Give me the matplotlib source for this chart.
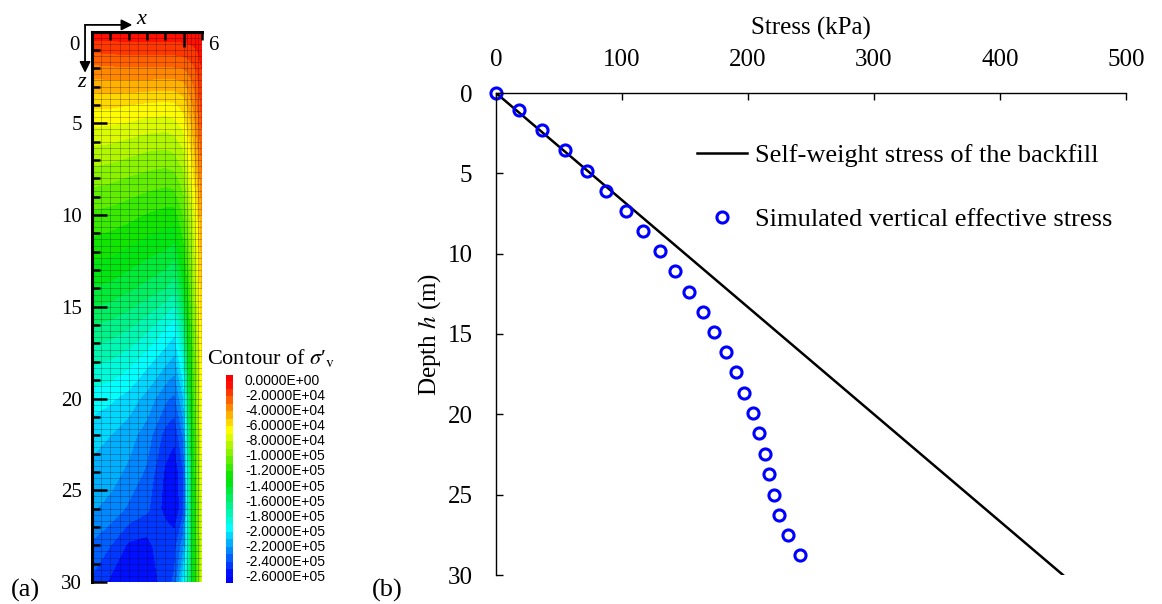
import numpy as np
import matplotlib

matplotlib.use("Agg")
import matplotlib.pyplot as plt  # noqa: E402
from matplotlib.colors import LinearSegmentedColormap, Normalize  # noqa: E402

plt.rcParams["font.family"] = "Liberation Serif"
plt.rcParams["mathtext.fontset"] = "stix"

W, H = 1162, 604

# --------------------------------------------------------------------------- #
# (a) vertical effective stress field in the backfill (kPa, compression < 0)
# --------------------------------------------------------------------------- #
x_cols = [0, 1, 2, 3, 4, 4.5, 5, 5.25, 5.5, 5.75, 6]
z_rows = [0, 1, 2, 3, 4, 5, 6, 8, 10, 12, 14, 16, 18, 20, 22, 24, 26, 28, 30]
sigma_v = [
    [-3, -3, -3, -3, -3, -3, -3, -3, -3, -2, -2],
    [-18, -17, -16, -16, -16, -16, -15, -14, -12, -10, -6],
    [-33, -32, -31, -31, -31, -31, -30, -27, -23, -18, -10],
    [-46, -45, -45, -46, -47, -47, -44, -38, -32, -24, -13],
    [-58, -58, -60, -62, -63, -62, -56, -48, -40, -30, -16],
    [-68, -69, -71, -74, -75, -73, -66, -56, -46, -35, -19],
    [-78, -79, -82, -85, -86, -84, -76, -64, -52, -40, -23],
    [-96, -98, -101, -104, -106, -104, -94, -79, -64, -50, -32],
    [-112, -114, -117, -121, -124, -125, -110, -95, -80, -62, -40],
    [-126, -128, -132, -137, -141, -146, -125, -107, -89, -69, -45],
    [-141, -143, -148, -154, -160, -167, -142, -120, -98, -75, -50],
    [-160, -163, -168, -176, -188, -195, -165, -132, -106, -82, -55],
    [-178, -181, -187, -197, -208, -214, -188, -145, -115, -88, -60],
    [-195, -198, -204, -214, -228, -233, -210, -158, -122, -93, -64],
    [-206, -210, -216, -225, -244, -248, -228, -170, -130, -97, -68],
    [-213, -216, -222, -232, -252, -257, -240, -180, -136, -101, -72],
    [-219, -223, -232, -238, -254, -259, -242, -185, -140, -105, -75],
    [-232, -240, -252, -254, -241, -244, -224, -183, -140, -107, -78],
    [-242, -252, -258, -258, -245, -238, -200, -172, -138, -108, -80],
]
legend_values = [0, -2e4, -4e4, -6e4, -8e4, -1e5, -1.2e5, -1.4e5, -1.6e5,
                 -1.8e5, -2e5, -2.2e5, -2.4e5, -2.6e5]

# (b) stress profile along depth
depth_sim = [0, 1.06, 2.30, 3.55, 4.85, 6.10, 7.34, 8.59, 9.83, 11.08, 12.38,
             13.63, 14.87, 16.12, 17.36, 18.67, 19.91, 21.16, 22.45, 23.71,
             25.0, 26.26, 27.5, 28.75]
stress_sim = [0, 18.3, 36.5, 54.8, 72.2, 87.3, 102.9, 116.9, 130.2, 142.3,
              153.4, 164.0, 173.3, 182.3, 190.2, 197.1, 203.7, 208.7, 213.2,
              216.7, 220.4, 224.9, 232.0, 241.0]
depth_sw = [0, 30]
stress_sw = [0, 450]

cmap = LinearSegmentedColormap.from_list(
    "rainbow5", ["#0000ff", "#00ffff", "#00e400", "#ffff00", "#ff0000"])
norm = Normalize(vmin=-2.6e5, vmax=0)
levels = np.arange(-2.7e5, 1.5e4, 1e4)

fig = plt.figure(figsize=(W / 100, H / 100), dpi=100)

# ---- panel (a) ---------------------------------------------------------- #
ax_a = fig.add_axes([92 / W, 1 - 582 / H, 110 / W, 550.5 / H])
X, Z = np.meshgrid(x_cols, z_rows)
ax_a.contourf(X, Z, np.array(sigma_v) * 1e3, levels=levels, cmap=cmap,
              norm=norm, extend="both")

# finite-difference mesh
mesh_x = np.concatenate([np.arange(0, 5.01, 0.5), np.arange(5.2, 6.01, 0.2)])
mesh_z = np.linspace(0, 30, 91)
ax_a.vlines(mesh_x, 0, 30, colors="k", lw=0.5, alpha=0.35)
ax_a.hlines(mesh_z, 0, 6, colors="k", lw=0.5, alpha=0.35)

ax_a.set_xlim(0, 6)
ax_a.set_ylim(30, 0)
for side in ("right", "bottom"):
    ax_a.spines[side].set_visible(False)
for side in ("left", "top"):
    ax_a.spines[side].set_linewidth(2.2)
ax_a.xaxis.tick_top()
ax_a.set_xticks([5])
ax_a.set_xticks([1, 2, 3, 4, 6], minor=True)
ax_a.set_xticklabels([])
ax_a.set_yticks(range(0, 31, 5))
ax_a.set_yticklabels([""] + [str(v) for v in range(5, 31, 5)])
ax_a.set_yticks(range(1, 30), minor=True)
ax_a.tick_params(which="major", direction="in", length=11, width=1.8,
                 labelsize=15, pad=7)
ax_a.tick_params(which="minor", direction="in", length=6, width=1.8)
ax_a.text(-0.66, 0.74, "0", ha="right", va="center", fontsize=15)
ax_a.text(6.34, 0.74, "6", ha="left", va="center", fontsize=15)

# coordinate arrows
arrow = dict(arrowstyle="-|>", lw=1.3, color="k", mutation_scale=16,
             shrinkA=0, shrinkB=0)
ax_a.annotate("", xy=(2.2, -0.36), xytext=(-0.38, -0.36), arrowprops=arrow,
              annotation_clip=False)
ax_a.annotate("", xy=(-0.38, 2.25), xytext=(-0.38, -0.36), arrowprops=arrow,
              annotation_clip=False)
ax_a.text(2.71, -0.63, "x", style="italic", fontsize=16, ha="center",
          va="center")
ax_a.text(-0.56, 2.76, "z", style="italic", fontsize=16, ha="center",
          va="center")

# contour legend
cax = fig.add_axes([226 / W, 1 - 583 / H, 7 / W, 208 / H])
mids = 0.5 * (levels[:-1] + levels[1:])
cax.pcolormesh([0, 1], levels, mids[:, None], cmap=cmap, norm=norm)
cax.set_ylim(-2.68e5, 0.8e4)
cax.set_xlim(0, 1)
cax.axis("off")
for v in legend_values:
    cax.text(2.7, v, f"{v:.4E}", transform=cax.get_yaxis_transform(),
             ha="left", va="center", fontsize=10, family="Liberation Sans")
fig.text(207 / W, 1 - 358 / H, "Contour of $\\sigma$\u2032$_{\\mathrm{v}}$",
         ha="left", va="center", fontsize=16)

# ---- panel (b) ---------------------------------------------------------- #
ax_b = fig.add_axes([496 / W, 1 - 575 / H, 630 / W, 482 / H])
ax_b.plot(stress_sw, depth_sw, color="k", lw=1.8,
          label="Self-weight stress of the backfill")
ax_b.plot(stress_sim, depth_sim, "o", ls="none", mfc="none", mec="#0000ff",
          ms=8, mew=2.2, clip_on=False,
          label="Simulated vertical effective stress")
ax_b.set_xlim(0, 500)
ax_b.set_ylim(30, 0)
ax_b.set_xticks(range(0, 501, 100))
ax_b.set_yticks(range(0, 31, 5))
for side in ("right", "bottom"):
    ax_b.spines[side].set_visible(False)
for side in ("left", "top"):
    ax_b.spines[side].set_linewidth(1.0)
ax_b.xaxis.tick_top()
ax_b.xaxis.set_label_position("top")
ax_b.tick_params(axis="x", direction="in", length=5, width=1, labelsize=18,
                 pad=16)
ax_b.tick_params(axis="y", direction="in", length=5, width=1, labelsize=18,
                 pad=17)
ax_b.set_xlabel("Stress (kPa)", fontsize=18, labelpad=10)
ax_b.set_ylabel("Depth $h$ (m)", fontsize=18, labelpad=3)
ax_b.legend(loc="upper left", bbox_to_anchor=(0.319, 0.895), frameon=False,
            fontsize=19, borderpad=0, borderaxespad=0, handlelength=1.9,
            handletextpad=0.3, labelspacing=1.55)

fig.text(25 / W, 1 - 590 / H, "(a)", ha="center", va="center", fontsize=19)
fig.text(387 / W, 1 - 590 / H, "(b)", ha="center", va="center", fontsize=19)

fig.savefig("out.png", dpi=100)
